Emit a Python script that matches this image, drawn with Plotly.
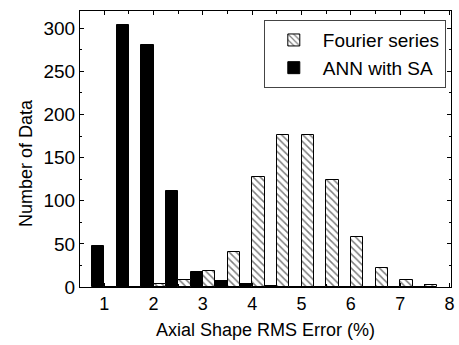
import plotly.graph_objects as go

bins = [1.0, 1.5, 2.0, 2.5, 3.0, 3.5, 4.0, 4.5, 5.0, 5.5, 6.0, 6.5, 7.0, 7.5]
ann_sa = [47, 304, 281, 111, 17, 7, 3, 1, 0, 0, 0, 0, 0, 0]
fourier = [0, 0, 4, 8, 19, 41, 128, 176, 176, 124, 58, 22, 8, 2]

FONT = "Liberation Sans, Arial, sans-serif"

fig = go.Figure()
fig.add_trace(go.Bar(
    x=bins, y=ann_sa, name="ANN with SA",
    marker=dict(color="black", line=dict(color="black", width=1)),
    offsetgroup="a",
))
fig.add_trace(go.Bar(
    x=bins, y=fourier, name="Fourier series",
    marker=dict(color="white", line=dict(color="black", width=1),
                pattern=dict(shape="\\", fgcolor="black", bgcolor="white",
                             size=5, solidity=0.3)),
    offsetgroup="b",
))

fig.update_layout(
    width=459, height=345,
    margin=dict(l=80, r=4, t=11, b=58),
    paper_bgcolor="white", plot_bgcolor="white",
    barmode="group", bargap=0, bargroupgap=0,
    font=dict(family=FONT, size=18, color="black"),
    showlegend=True,
    legend=dict(
        x=0.986, y=0.967, xanchor="right", yanchor="top",
        bordercolor="#444", borderwidth=1, bgcolor="white",
        font=dict(size=19), traceorder="reversed",
        tracegroupgap=0, itemwidth=48,
    ),
    annotations=[dict(
        text="Number of Data", xref="paper", yref="paper",
        x=-0.147, y=0.451, xanchor="center", yanchor="middle",
        textangle=-90, showarrow=False, font=dict(size=18),
    )],
)
fig.update_xaxes(
    range=[0.51, 8.03], tickmode="array", tickvals=[1, 2, 3, 4, 5, 6, 7, 8],
    ticks="inside", ticklen=4, tickcolor="black",
    minor=dict(dtick=0.5, ticks="inside", ticklen=3, tickcolor="black"),
    showline=True, linecolor="black", linewidth=1, mirror="ticks",
    showgrid=False, zeroline=False,
    tickfont=dict(size=18),
    title=dict(text="Axial Shape RMS Error (%)", font=dict(size=18), standoff=10),
)
fig.update_yaxes(
    range=[0, 320], tickmode="array", tickvals=[0, 50, 100, 150, 200, 250, 300],
    ticks="inside", ticklen=4, tickcolor="black",
    minor=dict(dtick=25, ticks="inside", ticklen=2, tickcolor="black"),
    showline=True, linecolor="black", linewidth=1, mirror="ticks",
    showgrid=False, zeroline=False,
    tickfont=dict(size=19),
)

fig.write_html("out.html", config={"displayModeBar": False},
               post_script="document.body.style.margin='0px';")
